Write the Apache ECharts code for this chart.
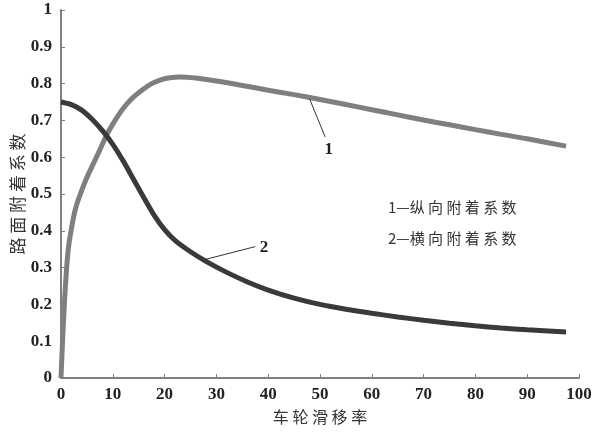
<!DOCTYPE html>
<html>
<head>
<meta charset="utf-8">
<script src="https://cdn.jsdelivr.net/npm/echarts@6/dist/echarts.min.js"></script>
<style>
  html, body { margin: 0; padding: 0; background: #fff; }
  #chart { width: 600px; height: 437px; }
</style>
</head>
<body>
<div id="chart"></div>
<script>
// 1 纵向附着系数 (x: 滑移率, y: 系数)
var longSlip = [0, 0.3, 0.77, 1.4, 2.4, 3, 4, 5, 6, 7.5, 8.8, 10, 11.7, 13.5, 15.6, 17.5, 19.4, 21, 23, 26, 30, 35, 40, 45, 50, 55, 60, 65, 70, 75, 80, 85, 90, 97.5]
var longCoef = [0, 0.1, 0.23, 0.35, 0.435, 0.47, 0.51, 0.545, 0.575, 0.62, 0.66, 0.69, 0.727, 0.757, 0.782, 0.8, 0.811, 0.816, 0.818, 0.815, 0.807, 0.795, 0.782, 0.77, 0.757, 0.743, 0.729, 0.715, 0.701, 0.688, 0.675, 0.662, 0.65, 0.63]
// 2 横向附着系数
var latSlip = [0, 2, 4, 6, 8, 10, 12, 14, 16, 18, 20, 22, 25, 28, 32, 36, 40, 45, 50, 55, 60, 65, 70, 75, 80, 85, 90, 97.5]
var latCoef = [0.75, 0.743, 0.728, 0.703, 0.672, 0.635, 0.59, 0.54, 0.49, 0.442, 0.403, 0.374, 0.343, 0.317, 0.287, 0.261, 0.239, 0.217, 0.2, 0.187, 0.176, 0.166, 0.157, 0.149, 0.142, 0.136, 0.131, 0.125]
// 曲线编号引线
var lead1 = [[48, 0.758], [51, 0.655]]
var lead2 = [[27.8, 0.322], [37.5, 0.357]]
var tag1 = [51.7, 0.62]
var tag2 = [39.2, 0.355]
var notes = ['1—纵 向 附 着 系 数', '2—横 向 附 着 系 数']

function pairs(xs, ys) {
  return xs.map(function (x, i) { return [x, ys[i]] })
}

var chart = echarts.init(document.getElementById('chart'))
var numFont = 'Liberation Serif'
var cjkFont = 'Noto Sans CJK SC'
var axisColor = '#808080'

chart.setOption({
  backgroundColor: '#fff',
  animation: false,
  grid: { left: 61, right: 21, top: 10, bottom: 59, containLabel: false, outerBoundsMode: 'none' },
  xAxis: {
    type: 'value',
    min: 0,
    max: 100,
    interval: 10,
    name: '车 轮 滑 移 率',
    nameLocation: 'center',
    nameGap: 31,
    nameTextStyle: { fontFamily: cjkFont, fontSize: 16, color: '#333' },
    axisLine: { lineStyle: { color: axisColor, width: 2 } },
    axisTick: { inside: true, length: 4, lineStyle: { color: axisColor } },
    axisLabel: { fontFamily: numFont, fontWeight: 'bold', fontSize: 17, color: '#222', margin: 8 },
    splitLine: { show: false }
  },
  yAxis: {
    type: 'value',
    min: 0,
    max: 1,
    interval: 0.1,
    name: '路 面 附 着 系 数',
    nameLocation: 'center',
    nameGap: 35,
    nameMoveOverlap: false,
    nameTextStyle: { fontFamily: cjkFont, fontSize: 17, color: '#333' },
    axisLine: { lineStyle: { color: axisColor, width: 2 } },
    axisTick: { inside: true, length: 4, lineStyle: { color: axisColor } },
    axisLabel: {
      fontFamily: numFont, fontWeight: 'bold', fontSize: 17, color: '#222', margin: 9,
      formatter: function (v) { return String(+v.toFixed(1)) }
    },
    splitLine: { show: false }
  },
  series: [
    {
      name: '纵向附着系数',
      type: 'line',
      data: pairs(longSlip, longCoef),
      smooth: 0.3,
      showSymbol: false,
      lineStyle: { color: '#7f7f7f', width: 5 },
      markLine: {
        silent: true,
        symbol: 'none',
        lineStyle: { color: '#333', width: 1, type: 'solid' },
        label: { show: false },
        data: [[{ coord: lead1[0] }, { coord: lead1[1] }]]
      },
      markPoint: {
        symbol: 'circle',
        symbolSize: 0,
        label: { show: true, formatter: '1', fontFamily: numFont, fontWeight: 'bold', fontSize: 17, color: '#222' },
        data: [{ coord: tag1 }]
      }
    },
    {
      name: '横向附着系数',
      type: 'line',
      data: pairs(latSlip, latCoef),
      smooth: 0.3,
      showSymbol: false,
      lineStyle: { color: '#3a3a3a', width: 5 },
      markLine: {
        silent: true,
        symbol: 'none',
        lineStyle: { color: '#333', width: 1, type: 'solid' },
        label: { show: false },
        data: [[{ coord: lead2[0] }, { coord: lead2[1] }]]
      },
      markPoint: {
        symbol: 'circle',
        symbolSize: 0,
        label: { show: true, formatter: '2', fontFamily: numFont, fontWeight: 'bold', fontSize: 17, color: '#222' },
        data: [{ coord: tag2 }]
      }
    }
  ],
  graphic: notes.map(function (t, i) {
    return {
      type: 'text',
      left: 388,
      top: 200 + i * 31,
      style: { text: t, fontFamily: cjkFont, fontSize: 15, fill: '#333' }
    }
  })
})
</script>
</body>
</html>
